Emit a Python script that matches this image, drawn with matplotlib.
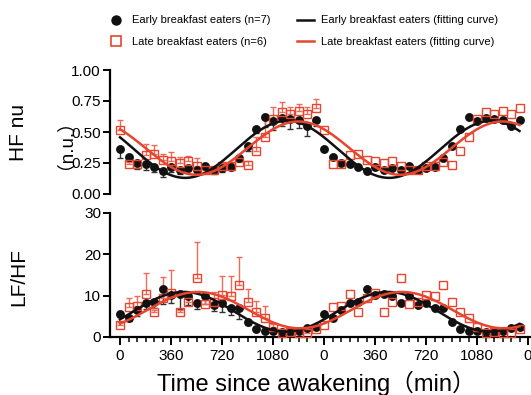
import numpy as np
import matplotlib
matplotlib.use("Agg")
import matplotlib.pyplot as plt
from matplotlib.lines import Line2D

plt.rcParams['font.family'] = ['Liberation Sans', 'Noto Sans CJK SC', 'DejaVu Sans']

# ---- data (hourly, one day; plotted twice) ----
time_min = np.arange(0, 1440, 60)
xtick_pos = [0, 360, 720, 1080, 1440, 1800, 2160, 2520, 2880]
xtick_labels = ['0', '360', '720', '1080', '0', '360', '720', '1080', '0']

hf_early = [0.363, 0.30, 0.25, 0.245, 0.22, 0.185, 0.215, 0.19, 0.207, 0.19, 0.226, 0.19,
            0.207, 0.22, 0.288, 0.387, 0.524, 0.618, 0.59, 0.615, 0.605, 0.60, 0.545, 0.597]
hf_early_err = [0.075, 0.03, 0.05, 0.05, 0.04, 0.05, 0.035, 0.03, 0.02, 0.03, 0.02, 0.03,
                0.03, 0.03, 0.02, 0.04, 0.03, 0.075, 0.075, 0.07, 0.08, 0.07, 0.08, 0.05]
hf_late = [0.52, 0.238, 0.242, 0.315, 0.32, 0.274, 0.266, 0.247, 0.27, 0.228, 0.194, 0.194,
           0.226, 0.226, 0.26, 0.234, 0.35, 0.462, 0.605, 0.658, 0.642, 0.672, 0.642, 0.691]
hf_late_err = [0.077, 0.02, 0.02, 0.088, 0.075, 0.05, 0.075, 0.05, 0.04, 0.06, 0.02, 0.02,
               0.02, 0.02, 0.03, 0.03, 0.107, 0.17, 0.10, 0.087, 0.06, 0.05, 0.06, 0.075]

lfhf_early = [5.56, 4.7, 6.5, 8.2, 8.4, 11.6, 10.2, 10.3, 9.8, 8.3, 9.9, 7.7,
              8.3, 6.9, 6.9, 3.7, 1.85, 1.45, 1.35, 1.2, 1.3, 1.4, 2.2, 2.3]
lfhf_early_err = [0.8, 0.9, 1.5, 1.5, 1.5, 3.5, 2.0, 3.5, 2.0, 1.5, 2.0, 1.5,
                  2.3, 1.5, 2.6, 0.8, 0.5, 0.4, 0.3, 0.3, 0.3, 0.3, 0.4, 0.4]
lfhf_late = [2.9, 7.2, 7.4, 10.5, 6.0, 9.35, 10.7, 6.0, 8.4, 14.35, 7.9, 8.35,
             10.2, 9.9, 12.65, 8.4, 5.95, 4.7, 2.5, 1.05, 1.2, 1.05, 1.05, 1.85]
lfhf_late_err = [0.8, 2.3, 2.6, 5.0, 0.5, 5.2, 5.6, 0.5, 1.0, 8.6, 1.0, 2.6,
                 4.6, 4.8, 6.7, 3.3, 2.7, 2.9, 0.6, 0.3, 0.3, 0.3, 0.3, 0.5]

# cosinor fit parameters (mesor, amplitude, acrophase in min), period 1440 min
fit_hf_early = (0.36, 0.23, 1180)
fit_hf_late = (0.37, 0.215, 1260)
fit_lfhf_early = (6.1, 4.8, 450)
fit_lfhf_late = (6.5, 4.4, 550)

BLACK = '#111111'
RED = '#E8452E'
RED_ERR = '#EE6B5A'

W, H = 531, 395
fig = plt.figure(figsize=(W / 100, H / 100), dpi=100)

def px_axes(left, top, right, bottom):
    return fig.add_axes([left / W, 1 - bottom / H, (right - left) / W, (bottom - top) / H])

x_left_px, x0_px, x2880_px, x_right_px = 110, 120, 528, 531
scale = (x2880_px - x0_px) / 2880
xlim = (-(x0_px - x_left_px) / scale, 2880 + (x_right_px - x2880_px) / scale)

ax1 = px_axes(110, 70, 531, 194)
ax2 = px_axes(110, 213, 531, 337)

t2 = np.concatenate([time_min, time_min + 1440])
tc = np.linspace(0, 2820, 400)

def cos_fit(p, t):
    m, a, phi = p
    return m + a * np.cos(2 * np.pi * (t - phi) / 1440)

def draw(ax, early, early_err, late, late_err, fe, fl):
    early = np.asarray(early); late = np.asarray(late)
    # error bars on first day only (early: below, late: above)
    ax.errorbar(time_min, early, yerr=[early_err, np.zeros(24)], fmt='none',
                ecolor='#333333', elinewidth=1.0, capsize=2.5, capthick=1.0, zorder=2)
    ax.errorbar(time_min, late, yerr=[np.zeros(24), late_err], fmt='none',
                ecolor=RED_ERR, elinewidth=1.0, capsize=2.5, capthick=1.0, zorder=2)
    ax.plot(t2, np.tile(early, 2), 'o', color=BLACK, ms=6.4, mew=0, zorder=3, clip_on=False)
    ax.plot(t2, np.tile(late, 2), 's', mfc='none', mec=RED, ms=5.7, mew=1.0, zorder=4, clip_on=False)
    ax.plot(tc, cos_fit(fe, tc), color=BLACK, lw=1.8, zorder=5)
    ax.plot(tc, cos_fit(fl, tc), color=RED, lw=1.8, zorder=5)
    ax.set_xlim(*xlim)
    for s in ['top', 'right']:
        ax.spines[s].set_visible(False)
    ax.spines['left'].set_linewidth(1.6)
    ax.spines['bottom'].set_linewidth(1.6)
    ax.tick_params(axis='y', length=5, width=1.4, labelsize=11, pad=1.5)

draw(ax1, hf_early, hf_early_err, hf_late, hf_late_err, fit_hf_early, fit_hf_late)
draw(ax2, lfhf_early, lfhf_early_err, lfhf_late, lfhf_late_err, fit_lfhf_early, fit_lfhf_late)

ax1.set_ylim(0, 1)
ax1.set_yticks([0, 0.25, 0.5, 0.75, 1.0])
ax1.set_yticklabels(['0.00', '0.25', '0.50', '0.75', '1.00'])
ax1.spines['bottom'].set_visible(False)
ax1.set_xticks([])

ax2.set_ylim(0, 30)
ax2.set_yticks([0, 10, 20, 30])
ax2.set_xticks(xtick_pos)
ax2.set_xticklabels(xtick_labels)
ax2.set_xticks(np.arange(0, 2881, 60), minor=True)
ax2.tick_params(axis='x', which='major', length=6, width=1.4, labelsize=11, pad=3)
ax2.tick_params(axis='x', which='minor', length=3.5, width=1.1)

# axis labels
fig.text(19 / W, 1 - 132 / H, 'HF nu', rotation=90, ha='center', va='center', fontsize=15)
fig.text(55 / W, 1 - 135 / H, '（n.u.）', rotation=90, ha='center', va='center', fontsize=13.5)
fig.text(19 / W, 1 - 277 / H, 'LF/HF', rotation=90, ha='center', va='center', fontsize=15)
fig.text(316 / W, 1 - 383 / H, 'Time since awakening（min）', ha='center', va='center', fontsize=17)

# legend
handles = [
    Line2D([], [], marker='o', ls='none', color=BLACK, ms=7.5, mew=0),
    Line2D([], [], marker='s', ls='none', mfc='none', mec=RED, ms=7, mew=1.2),
    Line2D([], [], color=BLACK, lw=1.8),
    Line2D([], [], color=RED, lw=1.8),
]
labels = ['Early breakfast eaters (n=7)', 'Late breakfast eaters (n=6)',
          'Early breakfast eaters (fitting curve)', 'Late breakfast eaters (fitting curve)']
fig.legend(handles, labels, ncol=2, frameon=False, fontsize=8, loc='upper left',
           bbox_to_anchor=(103 / W, 1 - 11 / H), handlelength=1.6, handletextpad=0.6,
           columnspacing=2.35, labelspacing=1.05, borderaxespad=0)

fig.savefig('out.png', dpi=100)
